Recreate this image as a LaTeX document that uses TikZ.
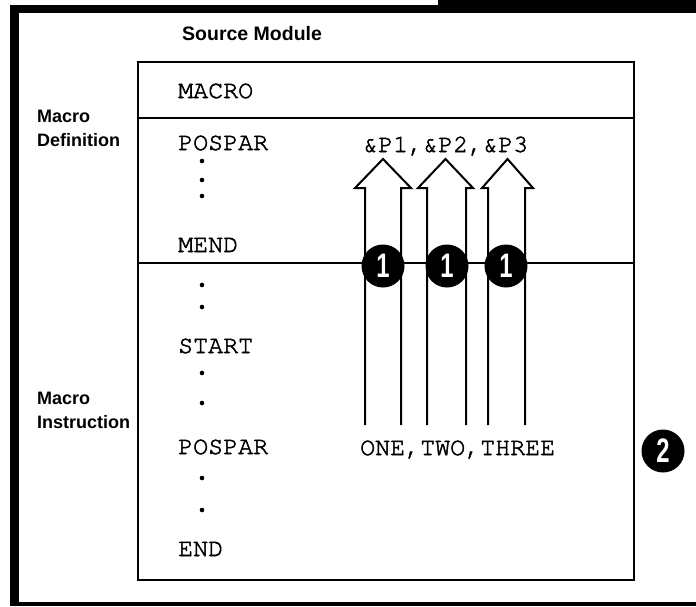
\documentclass[tikz,border=0pt]{standalone}
\usepackage{fontspec}
\setmainfont{Liberation Sans}
\newfontfamily\cur[FakeBold=2]{TeX Gyre Cursor}
\newcommand\harrow[5]{% name, x-left shaft, x-right shaft, x-left head, x-right head
  \coordinate (#1bl) at (#2,425);
  \coordinate (#1br) at (#3,425);
  \coordinate (#1tip) at ({(#4+#5)/2},159);
  \draw[hollow] (#1bl) -- (#2,188) -- (#4,188) -- (#1tip) -- (#5,188) -- (#3,188) -- (#1br);
}
\begin{document}
\begin{tikzpicture}[x=1pt,y=-1pt,
  lbl/.style={font=\bfseries\fontsize{18}{18}\selectfont, anchor=base west, inner sep=0pt},
  title/.style={font=\bfseries\fontsize{19.5}{19.5}\selectfont, anchor=base west, inner sep=0pt},
  code/.style={font=\cur\fontsize{25}{25}\selectfont, anchor=base west, inner sep=0pt},
  num/.style={circle, fill=black, minimum size=43pt, inner sep=0pt, text=white,
    font=\bfseries\fontsize{34}{34}\selectfont},
  dotm/.style={circle, fill=black, minimum size=4.6pt, inner sep=0pt},
  hollow/.style={line width=2pt, line join=miter},
  rule/.style={line width=2pt}
]
\useasboundingbox (0,0) rectangle (696,606);
% outer frame
\fill (10,5) rectangle (19,606);
\fill (10,5) rectangle (696,13);
\fill (438,0) rectangle (696,13);
\fill (10,602) rectangle (696,606);
% inner box
\coordinate (bTL) at (138,62);
\coordinate (bBR) at (634,580);
\draw[rule] (bTL) rectangle (bBR);
\coordinate (s1l) at (138,118); \coordinate (s1r) at (634,118);
\coordinate (s2l) at (138,263); \coordinate (s2r) at (634,263);
\draw[rule] (s1l) -- (s1r);
\draw[rule] (s2l) -- (s2r);
% title and side labels
\node[title] (src) at (182,40) {Source Module};
\node[lbl] (md1) at (37,122) {Macro};
\node[lbl] (md2) at (37,146) {Definition};
\node[lbl] (mi1) at (37,404) {Macro};
\node[lbl] (mi2) at (37,428) {Instruction};
% code
\node[code] (macro) at (178,98) {MACRO};
\node[code] (pospar1) at (178,150) {POSPAR};
\node[code] (mend) at (178,252) {MEND};
\node[code] (start) at (178,353) {START};
\node[code] (pospar2) at (178,454) {POSPAR};
\node[code] (end) at (178,556) {END};
\node[code] (params) at (363,152) {\&P1,\&P2,\&P3};
\node[code] (args) at (360,455) {ONE,TWO,THREE};
% dots
\foreach \y [count=\i] in {161,180,196,285,307,373,403,478,510}
  \node[dotm] (d\i) at (202,\y) {};
% hollow arrows
\harrow{a}{365}{401}{355}{411}
\harrow{b}{427}{466}{418}{473}
\harrow{c}{488}{525}{482}{533}
% numbered circles
\node[num] (c1) at (383,266) {\scalebox{0.7}[1]{1}};
\node[num] (c2) at (447,266) {\scalebox{0.7}[1]{1}};
\node[num] (c3) at (506,266) {\scalebox{0.7}[1]{1}};
\node[num] (n2) at (663,451) {\scalebox{0.7}[1]{2}};
\end{tikzpicture}
\end{document}
